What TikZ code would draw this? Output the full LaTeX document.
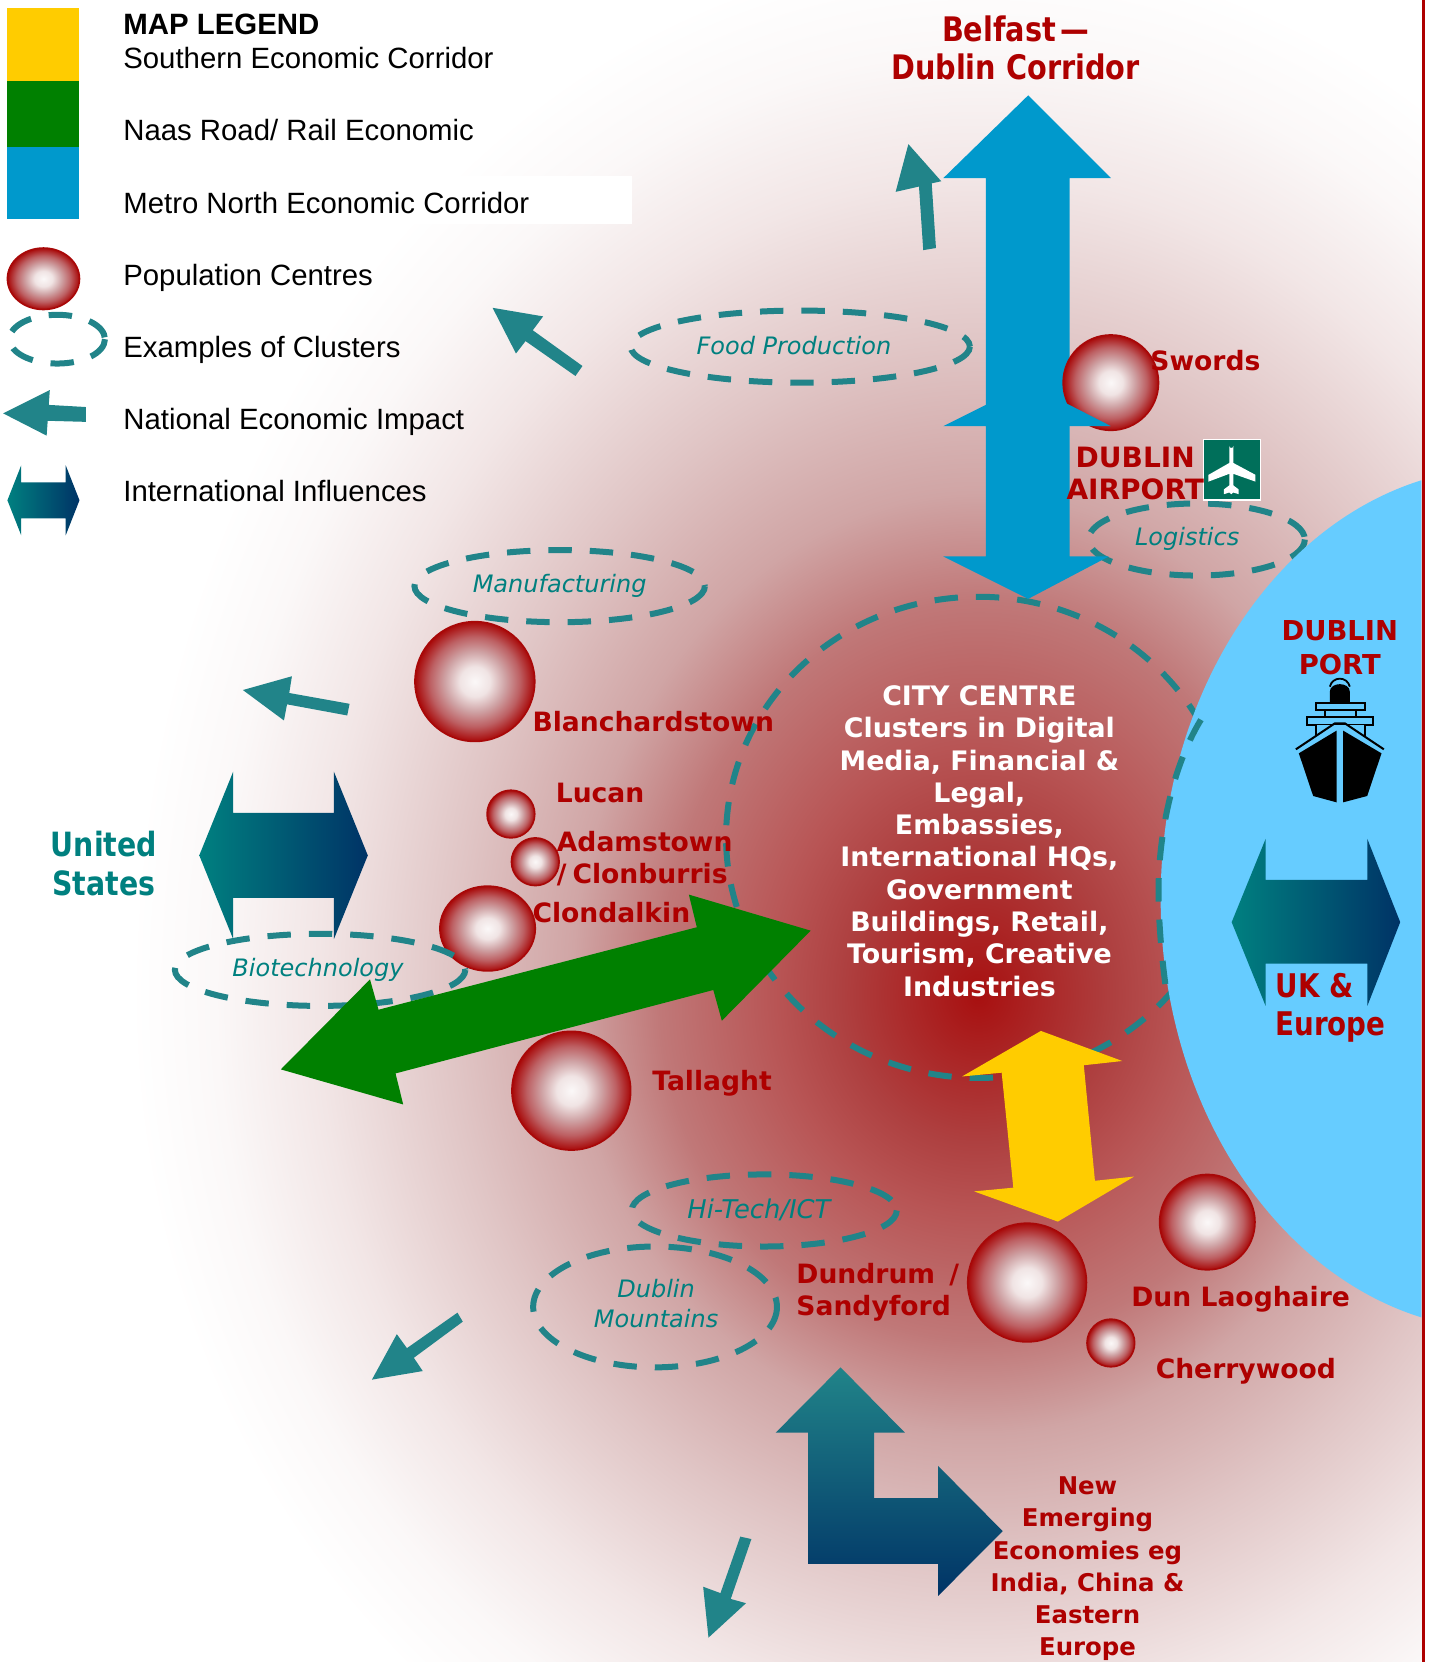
\documentclass[tikz,border=0pt]{standalone}
\usepackage{fontspec}
\setmainfont{Liberation Sans}
\newfontfamily\vfont{DejaVu Sans}
\newfontfamily\tfont{DejaVu Sans}[FakeStretch=0.85]
\definecolor{labred}{HTML}{AE0000}
\definecolor{tealA}{HTML}{218489}
\definecolor{tealB}{HTML}{00807F}
\definecolor{intL}{HTML}{008080}
\definecolor{intR}{HTML}{003366}
\definecolor{metro}{HTML}{0099CC}
\definecolor{port}{HTML}{66CCFF}
\definecolor{naas}{HTML}{008000}
\definecolor{south}{HTML}{FFCC00}
\definecolor{planeg}{HTML}{006F5A}
\definecolor{b0}{HTML}{A81010}
\definecolor{b1}{HTML}{AE4040}
\definecolor{b2}{HTML}{B85555}
\definecolor{b3}{HTML}{C07878}
\definecolor{b4}{HTML}{D0A5A5}
\definecolor{b5}{HTML}{E0C5C5}
\definecolor{b6}{HTML}{F2E6E6}
\definecolor{b7}{HTML}{FBF8F8}
\definecolor{c0}{HTML}{FBF8F8}
\definecolor{c1}{HTML}{F0E4E4}
\definecolor{c2}{HTML}{CFA3A5}
\definecolor{c3}{HTML}{BD6063}
\definecolor{c4}{HTML}{A80808}
\pgfdeclareradialshading{bgshade}{\pgfpoint{0bp}{0bp}}{color(0bp)=(b0); color(4bp)=(b1); color(6bp)=(b2); color(9.4bp)=(b3); color(12bp)=(b4); color(15.5bp)=(b5); color(19.5bp)=(b6); color(22.5bp)=(b7); color(25bp)=(white); color(50bp)=(white)}
\pgfdeclareradialshading{popshade}{\pgfpoint{0bp}{0bp}}{color(0bp)=(c0); color(6.25bp)=(c1); color(12.5bp)=(c2); color(18.75bp)=(c3); color(25bp)=(c4); color(50bp)=(c4)}
\tikzset{
  clus/.style={draw=tealA,line width=3pt,dash pattern=on 11.7pt off 9pt},
  lab/.style={inner sep=0pt,text=labred,font=\vfont\bfseries\fontsize{13.3}{16}\selectfont},
  citytext/.style={inner sep=0pt,text=white,align=center,font=\vfont\bfseries\fontsize{13.4}{16.15}\selectfont},
  bigred/.style={inner sep=0pt,text=labred,align=center,font=\tfont\bfseries\fontsize{16.9}{19.1}\selectfont},
  ital/.style={inner sep=0pt,text=tealB,align=center,font=\vfont\itshape\fontsize{12}{14.8}\selectfont},
  legt/.style={inner sep=0pt,anchor=mid west,text=black,font=\fontsize{14.67}{18}\selectfont},
  pop/.style={shading=popshade,draw=c4,line width=.8pt},
  imp/.style={fill=tealA,draw=none}
}
\newcommand\popc[3]{\shadedraw[pop] (#1) ellipse [x radius=#2,y radius=#3];}
\newcommand\intarrow[9]{\shade[left color=intL,right color=intR]
  (#1,#9) -- (#2,#5) -- (#2,#6) -- (#3,#6) -- (#3,#5) -- (#4,#9) -- (#3,#8) -- (#3,#7) -- (#2,#7) -- (#2,#8) -- cycle;}
\begin{document}
\begin{tikzpicture}[x=0.53pt,y=-0.53pt]
\useasboundingbox (0,0) rectangle (1350,1568);
\begin{scope}
 \clip (0,0) rectangle (1341,941);
 \shade[shading=bgshade] (923,940) ellipse [x radius=800,y radius=990];
\end{scope}
\begin{scope}
 \clip (0,940) rectangle (1341,1568);
 \shade[shading=bgshade] (923,940) ellipse [x radius=800,y radius=860];
\end{scope}
\fill[white] (110,166) rectangle (596,211);
% legend
\fill[south] (7,8) rectangle (75,76);
\fill[naas] (7,76) rectangle (75,139);
\fill[metro] (7,139) rectangle (75,207);
\popc{41,263}{34}{29}
\draw[clus] (54,320) ellipse [x radius=45,y radius=23];
\fill[imp] (3,390) -- (47,368) -- (46,382) -- (81,384) -- (81,398) -- (45,397) -- (44,411) -- cycle;
\intarrow{7}{20}{62}{75}{439}{455}{489}{505}{472}
\node[legt,font=\bfseries\fontsize{14.7}{18}\selectfont] (lhead) at (116,28) {MAP LEGEND};
\node[legt] (l1) at (116,60) {Southern Economic Corridor};
\node[legt] (l2) at (116,128) {Naas Road/ Rail Economic};
\node[legt] (l3) at (116,196) {Metro North Economic Corridor};
\node[legt] (l4) at (116,264) {Population Centres};
\node[legt] (l5) at (116,332) {Examples of Clusters};
\node[legt] (l6) at (116,400) {National Economic Impact};
\node[legt] (l7) at (116,468) {International Influences};
% clusters
\draw[clus] (923,790) ellipse [x radius=238,y radius=227];
\draw[clus] (755,327) ellipse [x radius=160,y radius=34];
\draw[clus] (1129,509) ellipse [x radius=102,y radius=34];
\draw[clus] (528,553) ellipse [x radius=137,y radius=34];
\popc{460,876}{45}{40}
\draw[clus] (302,915) ellipse [x radius=137,y radius=34];
\draw[clus] (721,1142) ellipse [x radius=125,y radius=34];
\draw[clus] (618,1233) ellipse [x radius=115,y radius=57];
% port
\begin{scope}
 \clip (0,0) rectangle (1341,1568);
 \fill[port] (1420,848) ellipse [x radius=325,y radius=407];
\end{scope}
\draw[clus] (1133,679) .. controls (1105,725) and (1093,790) .. (1093,840) .. controls (1093,870) and (1096,905) .. (1101,940);
% population centres
\popc{448,643}{56.5}{56.5}
\popc{482,768}{22.5}{22.5}
\popc{505,813}{22.5}{22.5}
\popc{539,1029}{56}{56}
\popc{969,1210}{56}{56}
\popc{1139,1153}{45}{45}
\popc{1048,1267}{22.5}{22.5}
% metro arrow
\fill[metro] (970,90) -- (1048,168) -- (1009,168) -- (1009,525) -- (1046,525) -- (970,565) -- (890,525) -- (930,525) -- (930,402) -- (890,402) -- (930,382) -- (930,168) -- (890,168) -- cycle;
\popc{1048,361}{45}{45}
\fill[metro] (1005,380) -- (1048,402) -- (1005,402) -- cycle;
% southern arrow
\fill[south] (982,972.6) -- (1058.8,1001) -- (1022.5,1005) -- (1033,1114) -- (1070,1110) -- (998,1152.5) -- (919,1124) -- (956,1120.5) -- (945,1012) -- (907.6,1015.6) -- cycle;
% international arrows
\intarrow{188}{220}{315}{347}{728}{767}{847}{886}{807}
\intarrow{1162}{1194}{1290}{1321}{791.5}{830}{909}{949}{870}
\shade[top color=tealA,bottom color=intR] (793,1290) -- (853.7,1351.6) -- (824.6,1351.6) -- (824.6,1413.3) -- (885,1413.3) -- (885,1383) -- (946,1444.5) -- (885,1505.7) -- (885,1475.5) -- (762.5,1475.5) -- (762.5,1351.6) -- (731.8,1351.6) -- cycle;
% national impact arrows
\fill[imp] (857,136) -- (888,171) -- (879,173) -- (883,234) -- (871,236) -- (867,176) -- (845,181) -- cycle;
\fill[imp] (668.4,1545) -- (703.8,1512.5) -- (689.4,1508.5) -- (708.9,1452) -- (698.4,1449.7) -- (679.7,1503) -- (663.4,1497) -- cycle;
\begin{scope}[x=0.53195pt]
 \fill[naas] (762,878) -- (647.5,844) -- (655,874.8) -- (355.8,952.6) -- (347.8,924) -- (264,1008.9) -- (379,1042) -- (371.8,1012.7) -- (670.5,934) -- (678.5,963) -- cycle;
 \fill[imp] (463,290.4) -- (510.5,298.5) -- (500.8,311.6) -- (547.5,345.3) -- (540.9,354.7) -- (494,321.8) -- (485,333.5) -- cycle;
 \fill[imp] (228.3,651) -- (274.4,638) -- (271.9,653.8) -- (328.6,664) -- (326.4,675) -- (269.8,664.5) -- (266.9,679.7) -- cycle;
 \fill[imp] (349.6,1301.6) -- (397.4,1293.5) -- (389,1281) -- (435,1246.9) -- (430,1238.4) -- (382.5,1271.9) -- (373,1258.7) -- cycle;
\end{scope}
% airport icon
\fill[white] (1135,414) rectangle (1190,473);
\fill[planeg] (1136,415) rectangle (1189,471);
\begin{scope}[shift={(1136,415)},x=0.1678pt,y=-0.1697pt]
 \fill[white] (75,18) arc[start angle=180,end angle=0,radius=6] -- (87,68) -- (153,103) -- (153,123) -- (87,100) -- (87,134) -- (103,146) -- (103,160) -- (87,155) -- (81,160) -- (75,155) -- (59,160) -- (59,146) -- (75,134) -- (75,100) -- (13,123) -- (13,103) -- (75,68) -- cycle;
\end{scope}
% ship icon
\begin{scope}[shift={(1198,632.1)},x=0.16667pt,y=-0.16667pt]
 \draw[line width=.9pt] (180,50) .. controls (188,18) and (232,18) .. (240,50);
 \fill (180,98) -- (180,65) .. controls (180,35) and (240,35) .. (240,65) -- (240,98) -- cycle;
 \draw[line width=1pt] (137,98) rectangle (285,120);
 \draw[line width=1pt] (165,120) -- (165,142) (258,120) -- (258,142);
 \draw[line width=1pt] (112,142) rectangle (308,165);
 \fill[port] (140,165) rectangle (282,200);
 \draw[line width=1pt] (137,165) -- (137,198) (285,165) -- (285,198);
 \draw[line width=1pt] (78,238) -- (195,160) -- (225,160) -- (342,238);
 \fill (87,250) -- (200,182) -- (200,397) -- (130,378) -- cycle;
 \fill (220,182) -- (335,250) -- (292,378) -- (220,397) -- cycle;
\end{scope}
% labels
\node[bigred] (belfast) at (958,45) {Belfast\kern-3pt\ —\\Dublin Corridor};
\node[lab,anchor=mid west] (swords) at (1085,345) {Swords};
\node[lab,align=center,font=\vfont\bfseries\fontsize{14}{16}\selectfont] (airport) at (1071,447) {DUBLIN\\AIRPORT};
\node[lab,align=center,font=\vfont\bfseries\fontsize{13.7}{17}\selectfont] (dport) at (1264,611) {DUBLIN\\PORT};
\node[bigred,align=left,anchor=west,font=\tfont\bfseries\fontsize{16.3}{19.1}\selectfont] (uk) at (1203,951) {UK \&\\Europe};
\node[bigred,text=tealB,font=\tfont\bfseries\fontsize{16.7}{19.4}\selectfont] (us) at (98,815) {United\\States};
\node[ital] (food) at (749,326) {Food Production};
\node[ital] (logi) at (1120,508) {Logistics};
\node[ital] (manu) at (528,553) {Manufacturing};
\node[ital] (bio) at (300,915) {Biotechnology};
\node[ital,font=\vfont\itshape\fontsize{12.9}{14.8}\selectfont] (hitech) at (716,1141) {Hi-Tech/ICT};
\node[ital] (mount) at (619,1230) {Dublin\\Mountains};
\node[lab,anchor=mid west] (blanch) at (502,685) {Blanchardstown};
\node[lab,anchor=mid west] (lucan) at (524,752) {Lucan};
\node[lab,anchor=west,align=left] (adam) at (525,810) {Adamstown\\/\kern3pt Clonburris};
\node[lab,anchor=mid west] (clond) at (502,865) {Clondalkin};
\node[lab,anchor=mid west] (tall) at (615,1024) {Tallaght};
\node[lab,anchor=west,align=left] (dund) at (751,1219) {Dundrum\kern2.5pt\ /\\Sandyford};
\node[lab,anchor=mid west] (dun) at (1067,1228) {Dun Laoghaire};
\node[lab,anchor=mid west] (cherry) at (1090,1296) {Cherrywood};
\node[lab,align=center,font=\vfont\bfseries\fontsize{12.2}{16.05}\selectfont] (emerging) at (1026,1480) {New\\Emerging\\Economies eg\\India, China \&\\Eastern\\Europe};
\node[citytext] (city) at (924,793.5) {CITY CENTRE\\Clusters in Digital\\Media, Financial \&\\Legal,\\Embassies,\\International HQs,\\Government\\Buildings, Retail,\\Tourism, Creative\\Industries};
\draw[labred,line width=1.6pt] (1343,0) -- (1343,1568);
\end{tikzpicture}
\end{document}
